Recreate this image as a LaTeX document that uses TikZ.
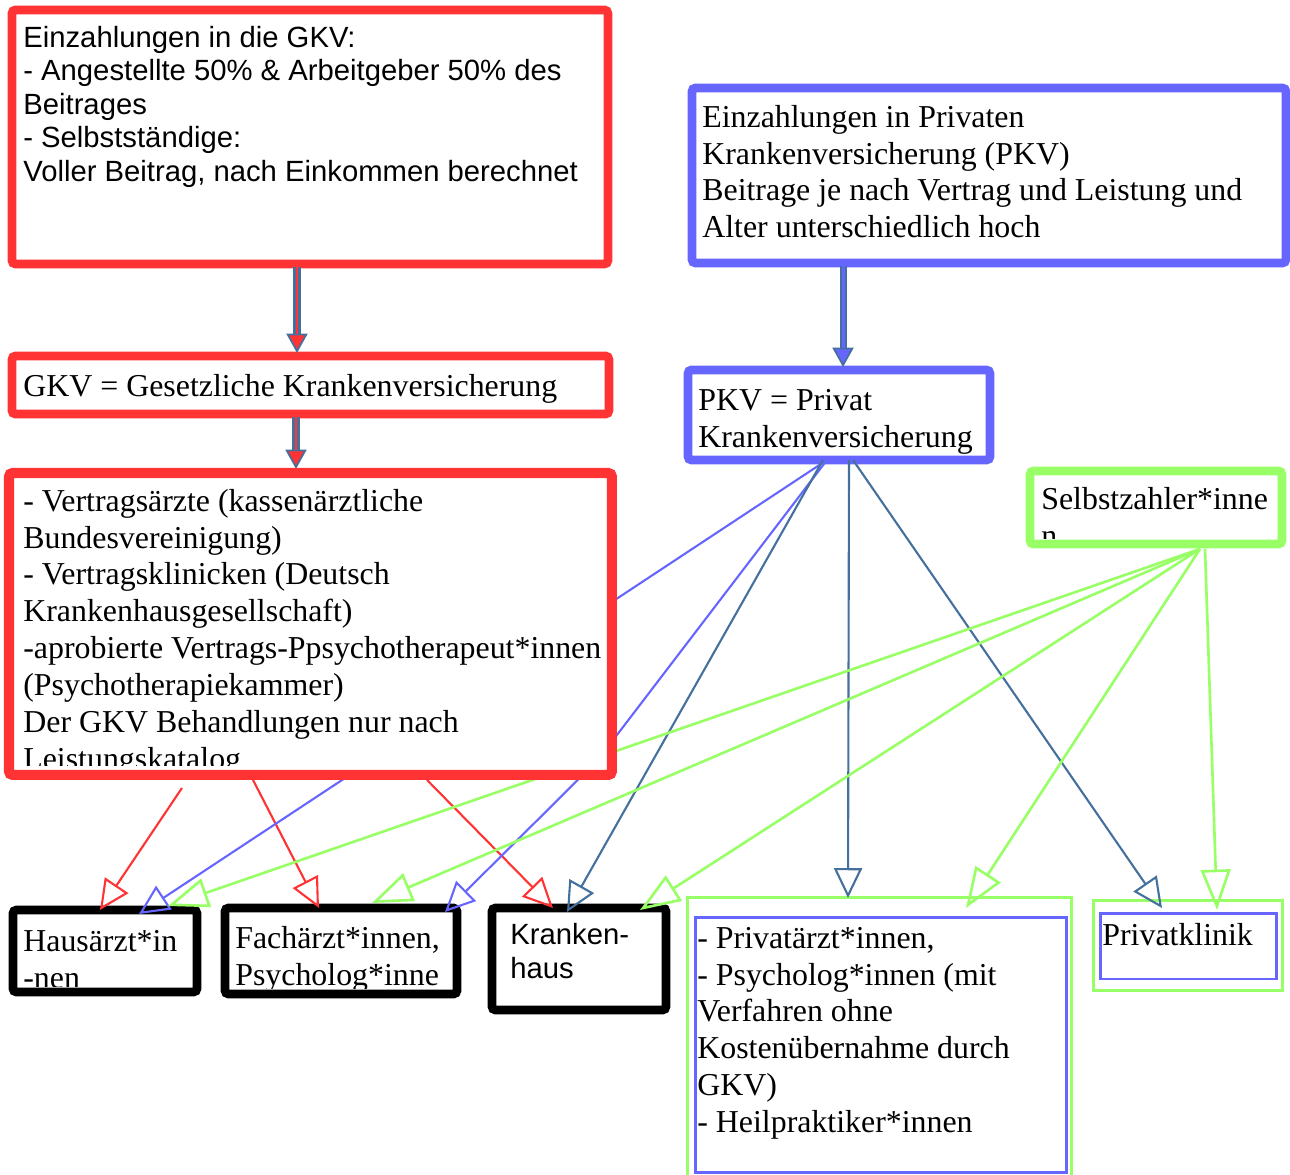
\documentclass[tikz,border=0pt]{standalone}
\usepackage{fontspec}
\setmainfont{Liberation Serif}
\setsansfont{Liberation Sans}
\usetikzlibrary{arrows.meta,calc}
\definecolor{kvrot}{HTML}{FF3333}
\definecolor{kvblau}{HTML}{6666FF}
\definecolor{kvgruen}{HTML}{99FF66}
\definecolor{kvstahl}{HTML}{44709D}
\pgfdeclarelayer{vorne}
\pgfsetlayers{main,vorne}

\begin{document}
\begin{tikzpicture}[x=0.02cm, y=-0.02cm]
\tikzset{kasten/.style={draw=#1, fill=white, line width=5pt, rounded corners=2pt, anchor=north west, inner sep=0pt, outer sep=0pt},
  rahmen/.style={draw=#1, line width=1.7pt, anchor=north west, inner sep=0pt, outer sep=0pt},
  serieftext/.style={anchor=north west, inner sep=0pt, align=left, font=\fontsize{18.14}{20.98}\selectfont},
  grotext/.style={anchor=north west, inner sep=0pt, align=left, font=\sffamily\fontsize{16.65}{19.1}\selectfont},
  pfeil/.style={draw=#1, line width=1.2pt, -{Triangle[open, length=17pt, width=16pt]}},
  gpfeil/.style={draw=kvgruen, line width=1.5pt, -{Triangle[open, length=23pt, width=17pt]}},
  dickaussen/.style={draw=kvstahl, line width=4pt, -{Triangle[length=11pt, width=12pt, fill=#1, line width=1pt]}},
  dickinnen/.style={draw=#1, line width=1.7pt, shorten >=11pt}}
\path[use as bounding box] (0,0) rectangle (1290,1175);
\clip (0,0) rectangle (1290,1175);

\node[kasten=kvrot, minimum width=11.92cm, minimum height=5.08cm] (ein) at (12,10) {};
\node[grotext] (eintext) at (23,23.4) {\strut Einzahlungen in die GKV:\\- Angestellte 50\% \& Arbeitgeber 50\% des\\Beitrages\\- Selbstständige:\\Voller Beitrag, nach Einkommen berechnet};

\node[kasten=kvblau, minimum width=11.88cm, minimum height=3.5cm] (privein) at (692,88) {};
\node[serieftext] (priveintext) at (702,101) {\strut Einzahlungen in Privaten\\Krankenversicherung (PKV)\\Beitrage je nach Vertrag und Leistung und\\Alter unterschiedlich hoch};

\node[kasten=kvrot, minimum width=11.94cm, minimum height=1.16cm] (gkv) at (12,356) {};
\node[serieftext] (gkvtext) at (23,370) {\strut GKV = Gesetzliche Krankenversicherung};

\node[kasten=kvblau, minimum width=6.04cm, minimum height=1.8cm] (pkv) at (688,370) {};
\begin{scope}
\clip (693,375) rectangle (985,454);
\node[serieftext] (pkvtext) at (698,384) {\strut PKV = Privat\\Krankenversicherung};
\end{scope}

\node[kasten=kvgruen, minimum width=5.04cm, minimum height=1.46cm] (selbst) at (1030,471) {};
\begin{scope}
\clip (1035,476) rectangle (1277,538);
\node[serieftext] (selbsttext) at (1041,483) {\strut Selbstzahler*inne\\n};
\end{scope}

\node[kasten=black, minimum width=3.68cm, minimum height=1.64cm] (haus) at (13,910) {};
\begin{scope}
\clip (18,915) rectangle (192,986);
\node[serieftext] (haustext) at (23,925) {\strut Hausärzt*in\\-nen};
\end{scope}

\node[kasten=black, minimum width=4.64cm, minimum height=1.72cm] (fach) at (225,908) {};
\begin{scope}
\clip (230,913) rectangle (452,988);
\node[serieftext] (fachtext) at (235,922) {\strut Fachärzt*innen,\\Psycholog*inne};
\end{scope}

\node[kasten=black, minimum width=3.48cm, minimum height=2.04cm] (kh) at (492,908) {};
\node[grotext] (khtext) at (510,921) {\strut Kranken-\\haus};

\node[rahmen=kvgruen, minimum width=7.7cm, minimum height=6.06cm] (paussen) at (687,897) {};
\node[rahmen=kvblau, minimum width=7.44cm, minimum height=5.12cm] (pa) at (695,917) {};
\node[serieftext] (patext) at (697,922) {\strut - Privatärzt*innen,\\- Psycholog*innen (mit\\Verfahren ohne\\Kostenübernahme durch\\GKV)\\- Heilpraktiker*innen};

\node[rahmen=kvgruen, minimum width=3.8cm, minimum height=1.82cm] (pkaussen) at (1093,900) {};
\node[rahmen=kvblau, minimum width=3.54cm, minimum height=1.32cm] (pk) at (1100,913) {};
\node[serieftext] (pktext) at (1102,919) {\strut Privatklinik};

\begin{pgfonlayer}{vorne}
\node[kasten=kvrot, line width=5.7pt, minimum width=12.06cm, minimum height=6.04cm] (leist) at (9,473) {};
\begin{scope}
\clip (15,479) rectangle (606,765);
\node[serieftext] (leisttext) at (23,485) {\strut - Vertragsärzte (kassenärztliche\\Bundesvereinigung)\\- Vertragsklinicken (Deutsch\\Krankenhausgesellschaft)\\-aprobierte Vertrags-Ppsychotherapeut*innen\\(Psychotherapiekammer)\\Der GKV Behandlungen nur nach\\Leistungskatalog};
\end{scope}
\end{pgfonlayer}

\draw[dickaussen=kvrot] ($(ein.south west)+(285,3)$) -- ($(gkv.north west)+(285,-3)$);
\draw[dickinnen=kvrot] ($(ein.south west)+(285,3)$) -- ($(gkv.north west)+(285,-3)$);
\draw[dickaussen=kvblau] ($(privein.south west)+(151,3)$) -- ($(pkv.north west)+(155,-3)$);
\draw[dickinnen=kvblau] ($(privein.south west)+(151,3)$) -- ($(pkv.north west)+(155,-3)$);
\draw[dickaussen=kvrot] ($(gkv.south west)+(284,3)$) -- ($(leist.north west)+(287,-4)$);
\draw[dickinnen=kvrot] ($(gkv.south west)+(284,3)$) -- ($(leist.north west)+(287,-4)$);

\draw[pfeil=kvrot] ($(leist.south west)+(173,13)$) -- ($(haus.north west)+(87,0)$);
\draw[pfeil=kvrot] ($(leist.south west)+(244,5)$) -- ($(fach.north west)+(94,0)$);
\draw[pfeil=kvrot] ($(leist.south west)+(418,5)$) -- ($(kh.north west)+(61,0)$);

\draw[pfeil=kvblau] ($(pkv.south west)+(139,0)$) -- ($(haus.north west)+(126,4)$);
\draw[pfeil=kvblau] ($(pkv.south west)+(139,0)$) -- ($(leist.south east)+(-14,-15)$) -- ($(fach.north west)+(220,4)$);

\draw[pfeil=kvstahl] ($(pkv.south west)+(135,0)$) -- ($(kh.north west)+(75,4)$);
\draw[pfeil=kvstahl] ($(pkv.south west)+(161,0)$) -- ($(paussen.north west)+(161,1)$);
\draw[pfeil=kvstahl] ($(pkv.south west)+(165,0)$) -- ($(pkaussen.north west)+(69,8)$);

\draw[gpfeil] ($(selbst.south west)+(170,5)$) -- ($(haus.north west)+(155,-4)$);
\draw[gpfeil] ($(selbst.south west)+(170,5)$) -- ($(fach.north west)+(147,-5)$);
\draw[gpfeil] ($(selbst.south west)+(170,5)$) -- ($(kh.north west)+(148,2)$);
\draw[gpfeil] ($(selbst.south west)+(170,5)$) -- ($(paussen.north west)+(279,11)$);
\draw[gpfeil] ($(selbst.south west)+(175,5)$) -- ($(pkaussen.north west)+(124,10)$);
\end{tikzpicture}
\end{document}
